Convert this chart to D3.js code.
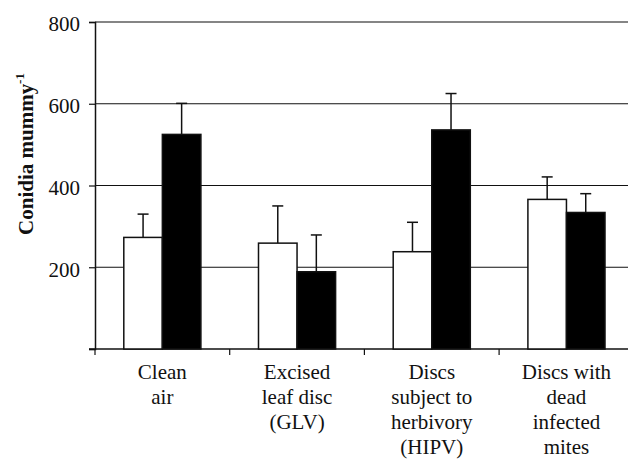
<!DOCTYPE html>
<html>
<head>
<meta charset="utf-8">
<script src="https://cdn.jsdelivr.net/npm/d3@7/dist/d3.min.js"></script>
<style>
  html, body { margin: 0; padding: 0; background: #fff; }
  svg { display: block; }
</style>
</head>
<body>
<svg id="chart" width="628" height="459"></svg>
<script>
const categories = ["Clean air", "Excised leaf disc (GLV)", "Discs subject to herbivory (HIPV)", "Discs with dead infected mites"];
const categoryLines = [["Clean", "air"], ["Excised", "leaf disc", "(GLV)"], ["Discs", "subject to", "herbivory", "(HIPV)"], ["Discs with", "dead", "infected", "mites"]];
const seriesNames = ["open", "filled"];
const openValues = [273, 259, 238, 366];
const openErrors = [57, 91, 72, 55];
const filledValues = [525, 189, 536, 334];
const filledErrors = [76, 90, 89, 46];
const yTicks = [0, 200, 400, 600, 800];
const yTickLabels = ["", "200", "400", "600", "800"];

const FONT = "Tinos, 'Nimbus Roman', 'Nimbus Roman No9 L', FreeSerif, 'Noto Serif', 'DejaVu Serif', 'Liberation Serif', 'Times New Roman', Times, Georgia, serif";
const svg = d3.select("#chart");
const mLeft = 95, mRight = 633.8, mTop = 22, mBottom = 349;

const x0 = d3.scaleBand().domain(categories).range([mLeft, mRight]).padding(0);
const x1 = d3.scaleBand().domain(seriesNames).range([28.8, 105.9]).padding(0);
const y = d3.scaleLinear().domain([0, 800]).range([mBottom, mTop]);

svg.append("g").selectAll("line").data(yTicks.filter(d => d > 0)).join("line")
  .attr("x1", mLeft).attr("x2", 628)
  .attr("y1", d => y(d)).attr("y2", d => y(d))
  .attr("stroke", d => d === 800 ? "#858585" : "#111")
  .attr("stroke-width", d => d === 800 ? 2 : 1.2);

const yAxis = svg.append("g").attr("transform", `translate(${mLeft},0)`)
  .call(d3.axisLeft(y).tickValues(yTicks).tickSize(6).tickFormat((d, i) => yTickLabels[i]));
yAxis.attr("font-family", FONT);
yAxis.select(".domain").attr("stroke", "#111").attr("stroke-width", 1.5);
yAxis.selectAll(".tick line").attr("stroke", "#111").attr("stroke-width", 1.2);
yAxis.selectAll(".tick text").attr("font-size", 21)
  .attr("x", -15).attr("dy", "0.42em").attr("fill", "#111");

svg.append("line").attr("x1", mLeft - 6).attr("x2", 628).attr("y1", mBottom).attr("y2", mBottom)
  .attr("stroke", "#111").attr("stroke-width", 1.5);
svg.append("g").selectAll("line").data(categories).join("line")
  .attr("x1", d => x0(d)).attr("x2", d => x0(d))
  .attr("y1", mBottom).attr("y2", mBottom + 6)
  .attr("stroke", "#111").attr("stroke-width", 1.2);

const rows = categories.map((c, i) => ({
  cat: c,
  bars: [
    { s: "open", v: openValues[i], e: openErrors[i], fill: "#fff" },
    { s: "filled", v: filledValues[i], e: filledErrors[i], fill: "#000" }
  ]
}));

const groups = svg.append("g").selectAll("g").data(rows).join("g")
  .attr("transform", d => `translate(${x0(d.cat)},0)`);

groups.selectAll("line.err").data(d => d.bars).join("line").attr("class", "err")
  .attr("x1", d => x1(d.s) + x1.bandwidth() / 2).attr("x2", d => x1(d.s) + x1.bandwidth() / 2)
  .attr("y1", d => y(d.v)).attr("y2", d => y(d.v + d.e))
  .attr("stroke", "#111").attr("stroke-width", 1.5);
groups.selectAll("line.cap").data(d => d.bars).join("line").attr("class", "cap")
  .attr("x1", d => x1(d.s) + x1.bandwidth() / 2 - 5.5).attr("x2", d => x1(d.s) + x1.bandwidth() / 2 + 5.5)
  .attr("y1", d => y(d.v + d.e)).attr("y2", d => y(d.v + d.e))
  .attr("stroke", "#111").attr("stroke-width", 1.5);

groups.selectAll("rect").data(d => d.bars).join("rect")
  .attr("x", d => x1(d.s)).attr("width", x1.bandwidth())
  .attr("y", d => y(d.v)).attr("height", d => y(0) - y(d.v))
  .attr("fill", d => d.fill).attr("stroke", "#111").attr("stroke-width", 1.5);

const labels = svg.append("g").attr("font-family", FONT).attr("fill", "#111")
  .selectAll("text").data(categories).join("text")
  .attr("text-anchor", "middle").attr("font-size", 21)
  .attr("transform", d => `translate(${x0(d) + x0.bandwidth() / 2},${379})`);
labels.selectAll("tspan").data((d, i) => categoryLines[i]).join("tspan")
  .attr("x", 0).attr("y", (d, i) => i * 25).text(d => d);

const yt = svg.append("text").attr("transform", "translate(33,154) rotate(-90)")
  .attr("font-family", FONT).attr("fill", "#111")
  .attr("text-anchor", "middle").attr("font-size", 21).attr("font-weight", "bold");
yt.append("tspan").text("Conidia mummy");
yt.append("tspan").attr("font-size", 13).attr("dy", "-0.7em").text("-1");
</script>
</body>
</html>
